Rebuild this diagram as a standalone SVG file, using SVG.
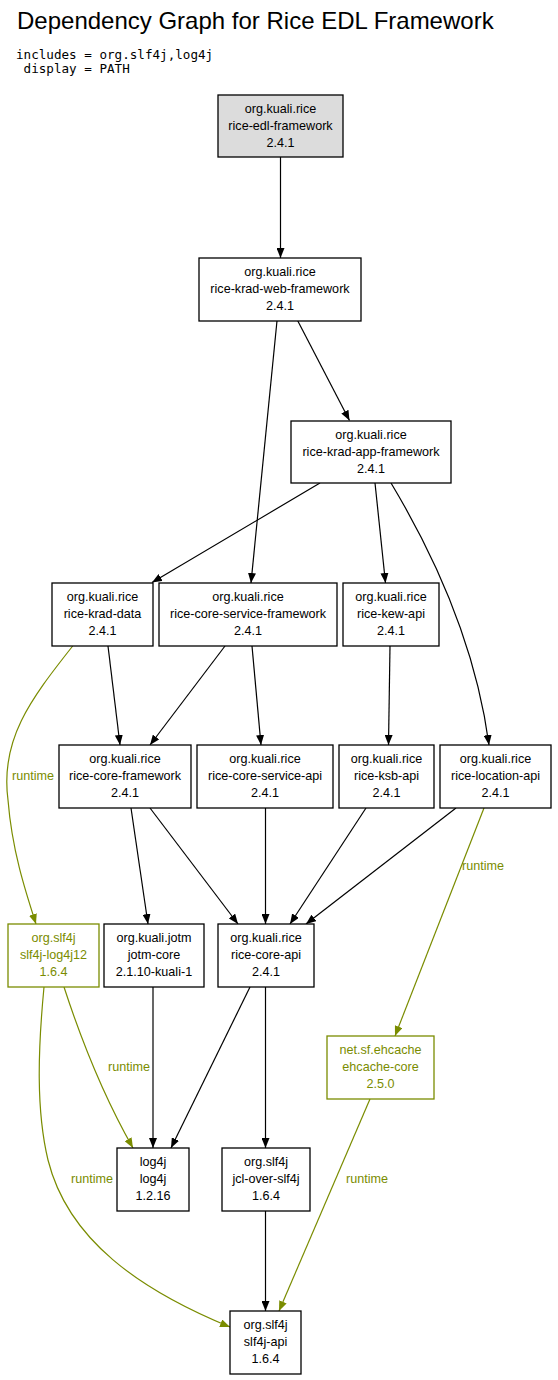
<svg xmlns="http://www.w3.org/2000/svg" width="558" height="1380" viewBox="0 0 558 1380">
<style>
.title{font-family:"Liberation Sans",Arial,sans-serif;font-size:24px;fill:#000}
.sub{font-family:"DejaVu Sans Mono","Liberation Mono",monospace;font-size:12.6px;fill:#000}
.node rect{fill:#fff;stroke:#000;stroke-width:1.3}
.node text{font-family:"Liberation Sans",Arial,sans-serif;font-size:12.6px;fill:#000;text-anchor:middle}
.root rect{fill:#dcdcdc}
.rt rect{stroke:#7a8c00}
.rt text{fill:#7a8c00}
.e{fill:none;stroke:#000;stroke-width:1.2}
.o{fill:none;stroke:#7a8c00;stroke-width:1.2}
.lbl{font-family:"Liberation Sans",Arial,sans-serif;font-size:12.6px;fill:#7a8c00}
</style>
<defs>
<marker id="ab" viewBox="0 0 10 8" refX="10" refY="4" markerWidth="10" markerHeight="8" markerUnits="userSpaceOnUse" orient="auto"><path d="M0,0 L10,4 L0,8 z" fill="#000"/></marker>
<marker id="ao" viewBox="0 0 10 8" refX="10" refY="4" markerWidth="10" markerHeight="8" markerUnits="userSpaceOnUse" orient="auto"><path d="M0,0 L10,4 L0,8 z" fill="#7a8c00"/></marker>
</defs>
<rect width="558" height="1380" fill="#fff"/>
<text class="title" x="17" y="29">Dependency Graph for Rice EDL Framework</text>
<text class="sub" x="16" y="59">includes = org.slf4j,log4j</text>
<text class="sub" x="16" y="73" xml:space="preserve"> display = PATH</text>

<g id="connectors">
<path class="e" marker-end="url(#ab)" d="M280.5,157 L280.5,258"/>
<path class="e" marker-end="url(#ab)" d="M297.7,320.7 L349.5,420.5"/>
<path class="e" marker-end="url(#ab)" d="M277,320.7 L251,583"/>
<path class="e" marker-end="url(#ab)" d="M320,483 L152,582.5"/>
<path class="e" marker-end="url(#ab)" d="M375,483 L385.5,583"/>
<path class="e" marker-end="url(#ab)" d="M391,483 C430,548 475,640 489,745"/>
<path class="e" marker-end="url(#ab)" d="M108,646 L120,745"/>
<path class="o" marker-end="url(#ao)" d="M72.7,646 C30,700 0,740 8,800 C12,850 25,890 36,924"/>
<path class="e" marker-end="url(#ab)" d="M225,646 L150,745"/>
<path class="e" marker-end="url(#ab)" d="M252,646 L261,745"/>
<path class="e" marker-end="url(#ab)" d="M390,646 L388.5,745"/>
<path class="e" marker-end="url(#ab)" d="M131,808 L148,924"/>
<path class="e" marker-end="url(#ab)" d="M150,808 L238,924"/>
<path class="e" marker-end="url(#ab)" d="M265.5,808 L265.5,924"/>
<path class="e" marker-end="url(#ab)" d="M366,808 L290,924"/>
<path class="e" marker-end="url(#ab)" d="M456,808 L306,924"/>
<path class="o" marker-end="url(#ao)" d="M484,808 L395,1036"/>
<path class="o" marker-end="url(#ao)" d="M64,987 C78,1030 100,1090 133,1148"/>
<path class="o" marker-end="url(#ao)" d="M44,987 C38,1050 36,1110 48,1160 C68,1240 140,1290 230,1327"/>
<path class="e" marker-end="url(#ab)" d="M153,987 L153,1148"/>
<path class="e" marker-end="url(#ab)" d="M250,987 L171,1148"/>
<path class="e" marker-end="url(#ab)" d="M265.5,987 L265.5,1148"/>
<path class="e" marker-end="url(#ab)" d="M265.5,1211 L265.5,1311"/>
<path class="o" marker-end="url(#ao)" d="M370,1099 L279,1311"/>
<text class="lbl" x="12" y="780">runtime</text>
<text class="lbl" x="462" y="870">runtime</text>
<text class="lbl" x="108" y="1071">runtime</text>
<text class="lbl" x="71" y="1183">runtime</text>
<text class="lbl" x="346" y="1183">runtime</text>
</g>

<g id="n-edl" class="node root"><rect x="218" y="95" width="125" height="62"/><text x="280.5" y="113">org.kuali.rice</text><text x="280.5" y="130">rice-edl-framework</text><text x="280.5" y="147">2.4.1</text></g>
<g id="n-krad-web" class="node"><rect x="199" y="258" width="162" height="63"/><text x="280" y="276">org.kuali.rice</text><text x="280" y="293">rice-krad-web-framework</text><text x="280" y="310">2.4.1</text></g>
<g id="n-krad-app" class="node"><rect x="291" y="421" width="160" height="62"/><text x="371" y="439">org.kuali.rice</text><text x="371" y="456">rice-krad-app-framework</text><text x="371" y="473">2.4.1</text></g>
<g id="n-krad-data" class="node"><rect x="52" y="583" width="101" height="63"/><text x="102.5" y="601">org.kuali.rice</text><text x="102.5" y="618">rice-krad-data</text><text x="102.5" y="635">2.4.1</text></g>
<g id="n-core-service-fw" class="node"><rect x="159" y="583" width="178" height="63"/><text x="248" y="601">org.kuali.rice</text><text x="248" y="618">rice-core-service-framework</text><text x="248" y="635">2.4.1</text></g>
<g id="n-kew-api" class="node"><rect x="343" y="583" width="96" height="63"/><text x="391" y="601">org.kuali.rice</text><text x="391" y="618">rice-kew-api</text><text x="391" y="635">2.4.1</text></g>
<g id="n-core-fw" class="node"><rect x="59" y="745" width="132" height="63"/><text x="125" y="763">org.kuali.rice</text><text x="125" y="780">rice-core-framework</text><text x="125" y="797">2.4.1</text></g>
<g id="n-core-service-api" class="node"><rect x="197" y="745" width="136" height="63"/><text x="265" y="763">org.kuali.rice</text><text x="265" y="780">rice-core-service-api</text><text x="265" y="797">2.4.1</text></g>
<g id="n-ksb-api" class="node"><rect x="339" y="745" width="95" height="63"/><text x="386.5" y="763">org.kuali.rice</text><text x="386.5" y="780">rice-ksb-api</text><text x="386.5" y="797">2.4.1</text></g>
<g id="n-location-api" class="node"><rect x="440" y="745" width="111" height="63"/><text x="495.5" y="763">org.kuali.rice</text><text x="495.5" y="780">rice-location-api</text><text x="495.5" y="797">2.4.1</text></g>
<g id="n-slf4j-log4j12" class="node rt"><rect x="8" y="924" width="91" height="63"/><text x="53.5" y="942">org.slf4j</text><text x="53.5" y="959">slf4j-log4j12</text><text x="53.5" y="976">1.6.4</text></g>
<g id="n-jotm-core" class="node"><rect x="104" y="924" width="100" height="63"/><text x="154" y="942">org.kuali.jotm</text><text x="154" y="959">jotm-core</text><text x="154" y="976">2.1.10-kuali-1</text></g>
<g id="n-core-api" class="node"><rect x="218" y="924" width="96" height="63"/><text x="266" y="942">org.kuali.rice</text><text x="266" y="959">rice-core-api</text><text x="266" y="976">2.4.1</text></g>
<g id="n-ehcache" class="node rt"><rect x="327" y="1036" width="107" height="63"/><text x="380.5" y="1054">net.sf.ehcache</text><text x="380.5" y="1071">ehcache-core</text><text x="380.5" y="1088">2.5.0</text></g>
<g id="n-log4j" class="node"><rect x="117" y="1148" width="72" height="63"/><text x="153" y="1166">log4j</text><text x="153" y="1183">log4j</text><text x="153" y="1200">1.2.16</text></g>
<g id="n-jcl" class="node"><rect x="222" y="1148" width="88" height="63"/><text x="266" y="1166">org.slf4j</text><text x="266" y="1183">jcl-over-slf4j</text><text x="266" y="1200">1.6.4</text></g>
<g id="n-slf4j-api" class="node"><rect x="230" y="1311" width="71" height="63"/><text x="265.5" y="1329">org.slf4j</text><text x="265.5" y="1346">slf4j-api</text><text x="265.5" y="1363">1.6.4</text></g>
</svg>
